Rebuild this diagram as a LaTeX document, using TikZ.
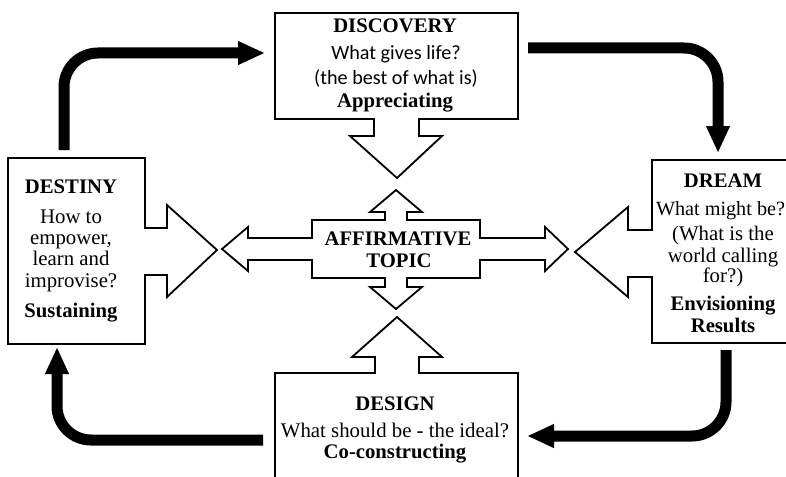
\documentclass[tikz,border=0pt]{standalone}
\usepackage{fontspec}
\setmainfont{Liberation Serif}
\newfontfamily\tnrfont{Liberation Serif}
\newfontfamily\calfont{Carlito}
\usetikzlibrary{arrows.meta}
\tikzset{
  shapebox/.style={draw=black, line width=1.8pt, fill=white, line join=miter},
  flow/.style={line width=11pt, -{Triangle[length=27pt,width=22pt]}, rounded corners=34pt},
  ln/.style={anchor=base, inner sep=0pt, font=\tnrfont\fontsize{20.8}{24}\selectfont},
  lnb/.style={anchor=base, inner sep=0pt, font=\tnrfont\bfseries\fontsize{20.7}{24}\selectfont},
  lnc/.style={anchor=base, inner sep=0pt, font=\calfont\fontsize{20.2}{24}\selectfont}
}
\begin{document}
\begin{tikzpicture}[x=1pt,y=-1pt]
\useasboundingbox (0,0) rectangle (786,476);
\clip (0,0) rectangle (786,476);
\fill[white] (0,0) rectangle (786,476);

% DISCOVERY shape
\draw[shapebox] (275,13) -- (518,13) -- (518,119) -- (419,119) -- (419,136) -- (442,136)
  -- (397,178) -- (350,136) -- (374,136) -- (374,119) -- (275,119) -- cycle;
% DESTINY shape
\draw[shapebox] (8,158) -- (145,158) -- (145,228) -- (167,228) -- (167,205) -- (217,250)
  -- (167,297) -- (167,275) -- (145,275) -- (145,344) -- (8,344) -- cycle;
% DREAM shape
\draw[shapebox] (652,160) -- (800,160) -- (800,343) -- (652,343) -- (652,277) -- (628,277)
  -- (628,297) -- (575,252) -- (628,207) -- (628,230) -- (652,230) -- cycle;
% DESIGN shape
\draw[shapebox] (275,373) -- (375,373) -- (375,357) -- (352,357) -- (397,317) -- (442,357)
  -- (419,357) -- (419,373) -- (518,373) -- (518,490) -- (275,490) -- cycle;
% AFFIRMATIVE TOPIC shape
\draw[shapebox] (396,190) -- (422,212) -- (407,212) -- (407,220) -- (480,220) -- (480,238)
  -- (545,238) -- (545,227) -- (568,249) -- (545,271) -- (545,260) -- (480,260) -- (480,278)
  -- (407,278) -- (407,287) -- (422,287) -- (396,309) -- (370,287) -- (385,287) -- (385,278)
  -- (312,278) -- (312,260) -- (248,260) -- (248,271) -- (222,249) -- (248,227) -- (248,238)
  -- (312,238) -- (312,220) -- (385,220) -- (385,212) -- (370,212) -- cycle;

% texts
\node[lnb] (disc1) at (395,33) {DISCOVERY};
\node[lnc] (disc2) at (396,60) {What gives life?};
\node[lnc] (disc3) at (396,85) {(the best of what is)};
\node[lnb] (disc4) at (395,108) {Appreciating};

\node[lnb] (dest1) at (71,193) {DESTINY};
\node[ln] (dest2) at (71,223) {How to};
\node[ln] (dest3) at (71,244) {empower,};
\node[ln] (dest4) at (71,265) {learn and};
\node[ln] (dest5) at (71,287) {improvise?};
\node[lnb] (dest6) at (71,317) {Sustaining};

\node[lnb] (drm1) at (723,187) {DREAM};
\node[ln, font=\tnrfont\fontsize{20.2}{24}\selectfont] (drm2) at (720.5,215) {What might be?};
\node[ln] (drm3) at (723,240) {(What is the};
\node[ln] (drm4) at (723,262) {world calling};
\node[ln] (drm5) at (723,282) {for?)};
\node[lnb] (drm6) at (723,310) {Envisioning};
\node[lnb] (drm7) at (723,332) {Results};

\node[lnb] (aff1) at (398,245) {AFFIRMATIVE};
\node[lnb] (aff2) at (399,267) {TOPIC};

\node[lnb] (des1) at (395,410) {DESIGN};
\node[ln] (des2) at (395,437) {What should be - the ideal?};
\node[lnb] (des3) at (395,458) {Co-constructing};

% connector points
\coordinate (destTop) at (64,150);
\coordinate (tlCorner) at (64,53);
\coordinate (discLeft) at (265,53);
\coordinate (discRight) at (528,48);
\coordinate (trCorner) at (718,48);
\coordinate (dreamTop) at (718,153);
\coordinate (dreamBottom) at (726,350);
\coordinate (brCorner) at (726,436);
\coordinate (designRight) at (527,436);
\coordinate (designLeft) at (263,440);
\coordinate (blCorner) at (57,440);
\coordinate (destBottom) at (57,347);

\draw[flow] (destTop) -- (tlCorner) -- (discLeft);
\draw[flow] (discRight) -- (trCorner) -- (dreamTop);
\draw[flow] (dreamBottom) -- (brCorner) -- (designRight);
\draw[flow] (designLeft) -- (blCorner) -- (destBottom);
\end{tikzpicture}
\end{document}
